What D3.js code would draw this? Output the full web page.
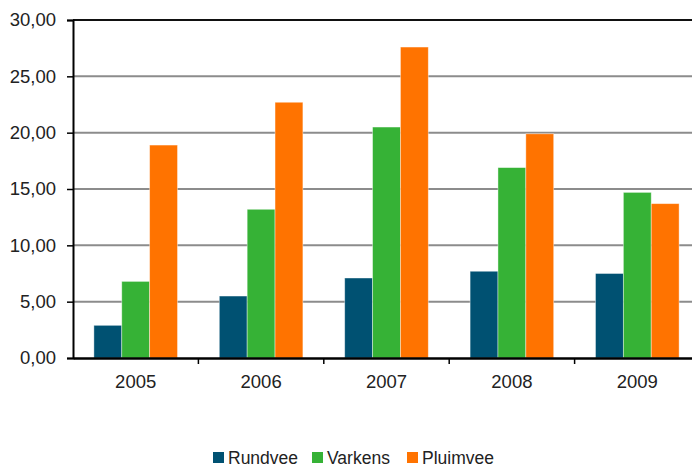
<!DOCTYPE html>
<html>
<head>
<meta charset="utf-8">
<script src="https://cdn.jsdelivr.net/npm/d3@7"></script>
<style>
  html, body { margin: 0; padding: 0; background: #fff; }
  svg { display: block; font-family: "Liberation Sans", Arial, sans-serif; }
</style>
</head>
<body>
<svg id="chart" width="692" height="468"></svg>
<script>
// Years on the category axis
const years = ["2005", "2006", "2007", "2008", "2009"];
// Series names, in drawing order
const seriesNames = ["Rundvee", "Varkens", "Pluimvee"];
// Values per series, one per year
const rundvee  = [2.9, 5.5, 7.1, 7.7, 7.5];
const varkens  = [6.8, 13.2, 20.5, 16.9, 14.7];
const pluimvee = [18.9, 22.7, 27.6, 19.9, 13.7];
// Y-axis tick values
const yTicks = [0, 5, 10, 15, 20, 25, 30];

const colors = { Rundvee: "#005172", Varkens: "#36b236", Pluimvee: "#ff7300" };
const seriesValues = { Rundvee: rundvee, Varkens: varkens, Pluimvee: pluimvee };

const svg = d3.select("#chart");
const plotLeft = 73, plotRight = 700, plotTop = 20, plotBottom = 358;

const x = d3.scaleBand().domain(years).range([plotLeft, plotRight]).paddingInner(0).paddingOuter(0);
const xInner = d3.scaleBand().domain(seriesNames).range([0, x.bandwidth()]).paddingInner(0).paddingOuter(0.75);
const y = d3.scaleLinear().domain([0, 30]).range([plotBottom, plotTop]);

const fmt = v => d3.format(".2f")(v).replace(".", ",");

// Horizontal gridlines
svg.append("g")
  .selectAll("line")
  .data(yTicks.filter(t => t > 0))
  .join("line")
  .attr("x1", plotLeft).attr("x2", plotRight)
  .attr("y1", d => y(d)).attr("y2", d => y(d))
  .attr("stroke", d => d === 30 ? "#111" : "#8c8c8c")
  .attr("stroke-width", 2);

// Bars
const rows = years.map((yr, i) => ({ year: yr, values: seriesNames.map(s => ({ s, v: seriesValues[s][i] })) }));
svg.append("g")
  .selectAll("g")
  .data(rows)
  .join("g")
  .attr("transform", d => `translate(${x(d.year)},0)`)
  .selectAll("rect")
  .data(d => d.values)
  .join("rect")
  .attr("x", d => xInner(d.s))
  .attr("width", xInner.bandwidth())
  .attr("y", d => y(d.v))
  .attr("height", d => y(0) - y(d.v))
  .attr("fill", d => colors[d.s])
  .attr("stroke", "rgba(255,255,255,0.5)")
  .attr("stroke-width", 0.8);

// Y axis
const yAxis = svg.append("g")
  .attr("transform", `translate(${plotLeft},0)`)
  .call(d3.axisLeft(y).tickValues(yTicks).tickFormat(fmt).tickSize(6).tickPadding(11));
yAxis.select(".domain").attr("stroke", "#000").attr("stroke-width", 2);
yAxis.selectAll(".tick line").attr("stroke", "#000").attr("stroke-width", 1.5);
yAxis.selectAll(".tick text").attr("font-size", 18.5).attr("fill", "#222")
  .attr("font-family", "'Liberation Sans', Arial, sans-serif");

// X axis
const xAxis = svg.append("g")
  .attr("transform", `translate(0,${plotBottom})`)
  .call(d3.axisBottom(x).tickSize(0).tickPadding(17));
xAxis.select(".domain").attr("stroke", "#000").attr("stroke-width", 2.5);
xAxis.selectAll(".tick text").attr("font-size", 18.5).attr("fill", "#222")
  .attr("font-family", "'Liberation Sans', Arial, sans-serif");
// Tick marks at category boundaries
svg.append("g")
  .selectAll("line")
  .data(years.slice(1))
  .join("line")
  .attr("x1", d => x(d)).attr("x2", d => x(d))
  .attr("y1", plotBottom).attr("y2", plotBottom + 6)
  .attr("stroke", "#000").attr("stroke-width", 1.5);

// Legend
const legendX = [213, 312, 407];
const legend = svg.append("g")
  .selectAll("g")
  .data(seriesNames)
  .join("g")
  .attr("transform", (d, i) => `translate(${legendX[i]},452)`);
legend.append("rect").attr("width", 11).attr("height", 11).attr("fill", d => colors[d]);
legend.append("text")
  .attr("x", 15).attr("y", 11.5)
  .attr("font-size", 17.5)
  .attr("fill", "#222")
  .text(d => d);
</script>
</body>
</html>
